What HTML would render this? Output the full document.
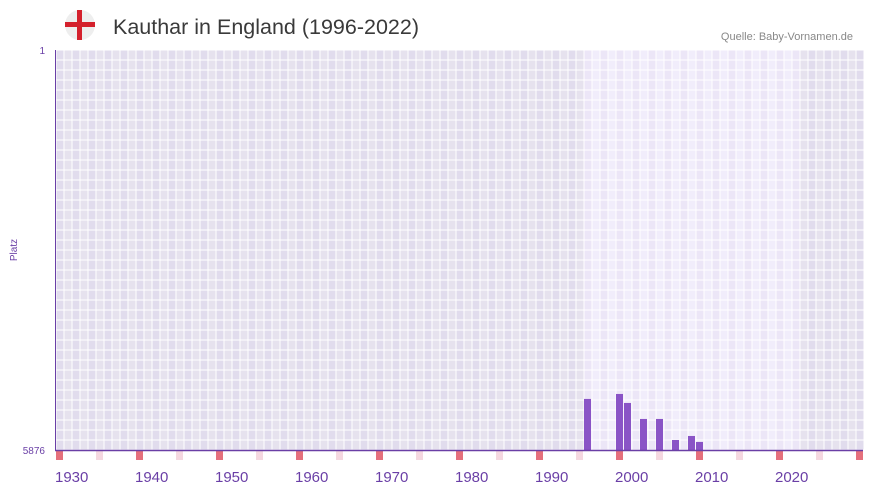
<!DOCTYPE html>
<html><head><meta charset="utf-8"><style>
body{margin:0;background:#fff;font-family:"Liberation Sans",sans-serif;}
svg{display:block}
</style></head><body>
<svg width="873" height="492">
<g>
<circle cx="80" cy="25" r="15" fill="#eeeeee"/>
<rect x="65" y="22" width="30" height="5" fill="#d4202c"/>
<rect x="77" y="10" width="5" height="30" fill="#d4202c"/>
</g>
<text x="113" y="34" font-size="21.5" fill="#3a3a3a">Kauthar in England (1996-2022)</text>
<text x="853" y="40" font-size="11" fill="#888" text-anchor="end">Quelle: Baby-Vornamen.de</text>
<g id="bg"></g>
<g id="bars"></g>
<g id="marks"></g>
<line x1="55.5" y1="50" x2="55.5" y2="451" stroke="#6a3fa6" stroke-width="1"/>
<line x1="55" y1="450.5" x2="863" y2="450.5" stroke="#6a3fa6" stroke-width="1.5"/>
<text x="45" y="54" font-size="10" fill="#6a3fa6" text-anchor="end">1</text>
<text x="45" y="454" font-size="10" fill="#6a3fa6" text-anchor="end">5876</text>
<text x="17" y="250" font-size="10" fill="#6a3fa6" text-anchor="middle" transform="rotate(-90 17 250)">Platz</text>
<g id="labels"></g>
</svg>
<script>
const years=[1996,2000,2001,2003,2005,2007,2009,2010];
const ranks=[5126,5053,5185,5420,5420,5729,5670,5758];
const tickYears=[1930,1940,1950,1960,1970,1980,1990,2000,2010,2020];
const minYear=1930,maxYear=2030,minRank=1,maxRank=5876,dataStart=1996,dataEnd=2022;
const NS="http://www.w3.org/2000/svg";
const xs=y=>56+(y-minYear)*8;
const ys=r=>50+(r-minRank)/(maxRank-minRank)*400;
function mk(t,a,p){const e=document.createElementNS(NS,t);for(const k in a)e.setAttribute(k,a[k]);p.appendChild(e);return e;}
const bg=document.getElementById('bg');
for(let y=minYear;y<=maxYear;y++){
  const inD=y>=dataStart&&y<=dataEnd;
  for(let r=0;r<40;r++){
    const c=mk('rect',{x:xs(y)+0.5,y:50+r*10+0.5,width:7,height:9,fill:inD?(y%2?'#f1edfb':'#ece6f7'):(y%2?'#e6e2ee':'#e1dced')},bg);
    
    
  }
}
const bars=document.getElementById('bars');
years.forEach((y,i)=>{
  const r=mk('rect',{x:xs(y),y:ys(ranks[i]),width:7,height:450-ys(ranks[i]),fill:'#8a54c6'},bars);
  
  
});
const marks=document.getElementById('marks');
for(let y=minYear;y<=maxYear;y+=5){
  const m=mk('rect',{x:xs(y),y:451,width:7,height:9,fill:y%10===0?'#e5707c':'#f5d8e0'},marks);
  
  
}
const lab=document.getElementById('labels');
tickYears.forEach(y=>{
  const t=mk('text',{x:xs(y)-1,y:482,'font-size':15,fill:'#6a3fa6'},lab);
  t.textContent=y;
  
  
});
</script>
</body></html>
